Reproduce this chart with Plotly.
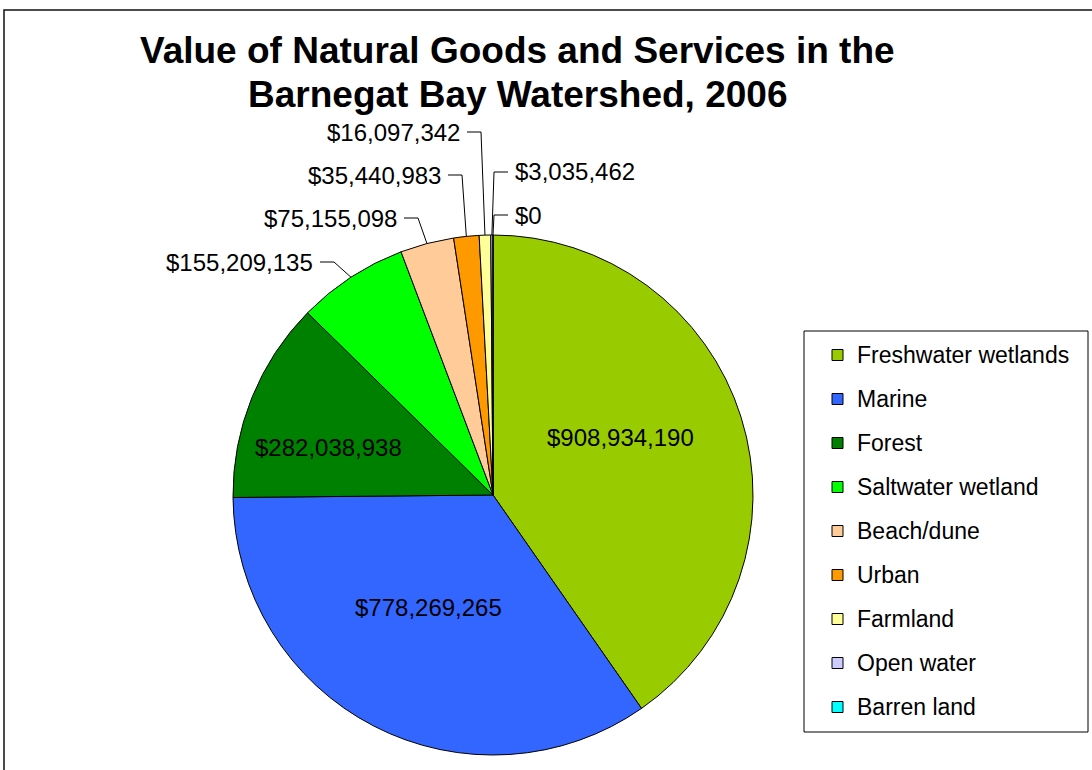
import math
import plotly.graph_objects as go

# ---------------- data ----------------
categories = ["Freshwater wetlands", "Marine", "Forest", "Saltwater wetland",
              "Beach/dune", "Urban", "Farmland", "Open water", "Barren land"]
values = [908934190, 778269265, 282038938, 155209135, 75155098,
          35440983, 16097342, 3035462, 0]
colors = ["#99CC00", "#3366FF", "#008000", "#00FF00", "#FFCC99",
          "#FF9900", "#FFFF99", "#CCCCFF", "#00FFFF"]
title_lines = ["Value of Natural Goods and Services in the",
               "Barnegat Bay Watershed, 2006"]

# ---------------- layout constants (pixels) ----------------
W, H = 1092, 770
CX, CY, R = 493, 495, 260
FONT = "Liberation Sans, Arial, sans-serif"

# label placement: index -> (x, y[, anchor])
inside_pos = {0: (620, 437), 1: (428, 607), 2: (328, 447)}
outside_pos = {3: (315, 262, "right"), 4: (399, 218, "right"),
               5: (443, 175, "right"), 6: (462, 132, "right"),
               7: (513, 172, "left"), 8: (513, 215, "left")}


def px(x):
    return x / W


def py(y):
    return 1 - y / H


fig = go.Figure(go.Pie(
    labels=categories, values=values, sort=False, direction="clockwise",
    rotation=0, textinfo="none", hoverinfo="label+value", showlegend=False,
    marker=dict(colors=colors, line=dict(color="black", width=1)),
    domain=dict(x=[px(CX - R), px(CX + R)], y=[py(CY + R), py(CY - R)]),
))

total = sum(values)
mid_angles = []
acc = 0
for v in values:
    mid_angles.append((acc + v / 2) / total * 360)
    acc += v

annotations = []
shapes = []

# value labels
for i, v in enumerate(values):
    txt = "${:,}".format(v)
    if i in inside_pos:
        x, y = inside_pos[i]
        annotations.append(dict(x=px(x), y=py(y), xref="paper", yref="paper",
                                text=txt, showarrow=False, xanchor="center",
                                yanchor="middle",
                                font=dict(family=FONT, size=24, color="black")))
    else:
        x, y, side = outside_pos[i]
        annotations.append(dict(x=px(x), y=py(y), xref="paper", yref="paper",
                                text=txt, showarrow=False, xanchor=side,
                                yanchor="middle",
                                font=dict(family=FONT, size=24, color="black")))
        th = math.radians(mid_angles[i])
        ex = CX + R * math.sin(th)
        ey = CY - R * math.cos(th)
        sgn = 1 if side == "right" else -1
        sx = x + sgn * 5
        kx = x + sgn * 19
        path = "M {} {} L {} {} L {} {}".format(px(sx), py(y), px(kx), py(y),
                                                px(ex), py(ey))
        shapes.append(dict(type="path", xref="paper", yref="paper", path=path,
                           line=dict(color="black", width=1)))

# title
for j, (line, yy) in enumerate(zip(title_lines, [51, 94])):
    annotations.append(dict(x=px(517), y=py(yy), xref="paper", yref="paper",
                            text="<b>" + line + "</b>", showarrow=False,
                            xanchor="center", yanchor="middle",
                            font=dict(family=FONT, size=37, color="black")))

# manual legend
shapes.append(dict(type="rect", xref="paper", yref="paper",
                   x0=px(804), x1=px(1088), y0=py(732), y1=py(331),
                   line=dict(color="black", width=1), fillcolor="white",
                   layer="below"))
for i, (cat, col) in enumerate(zip(categories, colors)):
    yc = 355 + 44 * i
    shapes.append(dict(type="rect", xref="paper", yref="paper",
                       x0=px(832), x1=px(843), y0=py(yc + 5.5), y1=py(yc - 5.5),
                       line=dict(color="black", width=1), fillcolor=col))
    annotations.append(dict(x=px(855), y=py(yc), xref="paper", yref="paper",
                            text=cat, showarrow=False, xanchor="left",
                            yanchor="middle",
                            font=dict(family=FONT, size=23, color="black")))

# outer frame
shapes.append(dict(type="rect", xref="paper", yref="paper",
                   x0=px(4), x1=px(1110), y0=py(790), y1=py(10),
                   line=dict(color="#111111", width=1.5)))

fig.update_layout(
    width=W, height=H, margin=dict(l=0, r=0, t=0, b=0),
    paper_bgcolor="white", plot_bgcolor="white",
    annotations=annotations, shapes=shapes,
)

fig.write_html("out.html", config={"displayModeBar": False},
               post_script="document.body.style.margin='0';document.body.style.overflow='hidden';")
